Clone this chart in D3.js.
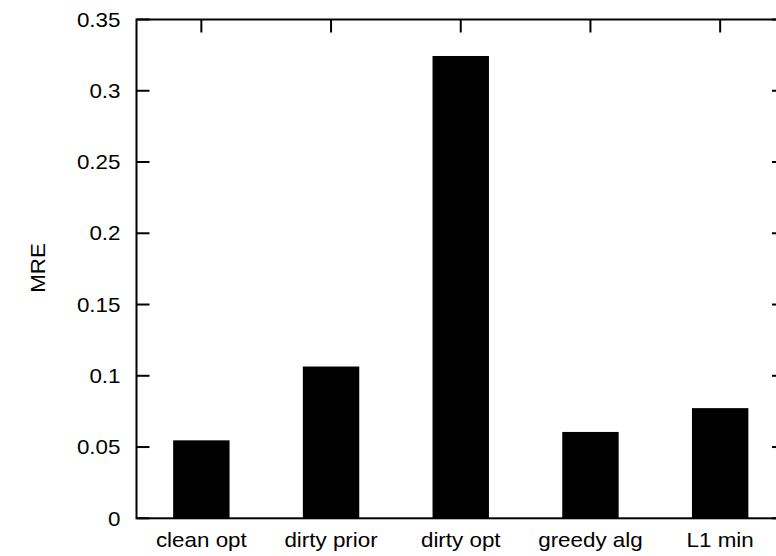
<!DOCTYPE html>
<html>
<head>
<meta charset="utf-8">
<script src="https://cdnjs.cloudflare.com/ajax/libs/d3/7.8.5/d3.min.js"></script>
<style>
  body { margin: 0; background: #fff; }
  text { font-family: "Liberation Sans", Arial, sans-serif; fill: #000; }
</style>
</head>
<body>
<div id="chart"></div>
<script>
var methods = ['clean opt', 'dirty prior', 'dirty opt', 'greedy alg', 'L1 min'];
var mre = [0.0547, 0.1065, 0.3244, 0.0606, 0.0773];
var yTicks = [0, 0.05, 0.1, 0.15, 0.2, 0.25, 0.3, 0.35];
var yTickLabels = ['0', '0.05', '0.1', '0.15', '0.2', '0.25', '0.3', '0.35'];

var W = 776, H = 556;
var margin = {top: 19.5, left: 136.5};
var plotW = 648.5, plotH = 498.8;
var fs = 20, sx = 1.12;

var svg = d3.select('#chart').append('svg')
    .attr('width', W)
    .attr('height', H);

var x = d3.scaleLinear().domain([-0.5, 4.5]).range([margin.left, margin.left + plotW]);
var y = d3.scaleLinear().domain([0, 0.35]).range([margin.top + plotH, margin.top]);
var barW = 0.435 * (x(1) - x(0));

// bars
svg.selectAll('rect.bar')
    .data(mre)
    .enter().append('rect')
    .attr('class', 'bar')
    .attr('x', function(d, i) { return x(i) - barW / 2; })
    .attr('y', function(d) { return y(d); })
    .attr('width', barW)
    .attr('height', function(d) { return y(0) - y(d); })
    .attr('fill', '#000');

var tickLen = 13;
var g = svg.append('g').attr('stroke', '#000').attr('stroke-width', 2);

// y ticks, left and right, pointing inward
yTicks.forEach(function(t) {
  g.append('line').attr('x1', x(-0.5)).attr('x2', x(-0.5) + tickLen)
    .attr('y1', y(t)).attr('y2', y(t));
  g.append('line').attr('x1', x(4.5)).attr('x2', x(4.5) - tickLen)
    .attr('y1', y(t)).attr('y2', y(t));
});

// x ticks, top and bottom
methods.forEach(function(m, i) {
  g.append('line').attr('x1', x(i)).attr('x2', x(i))
    .attr('y1', y(0.35)).attr('y2', y(0.35) + tickLen);
  g.append('line').attr('x1', x(i)).attr('x2', x(i))
    .attr('y1', y(0)).attr('y2', y(0) - tickLen);
});

// frame
g.append('rect')
    .attr('x', x(-0.5)).attr('y', y(0.35))
    .attr('width', x(4.5) - x(-0.5)).attr('height', y(0) - y(0.35))
    .attr('fill', 'none');

// y tick labels
svg.selectAll('text.ytick')
    .data(yTicks)
    .enter().append('text')
    .attr('class', 'ytick')
    .attr('text-anchor', 'end')
    .attr('font-size', fs)
    .attr('transform', function(d) { return 'translate(' + (x(-0.5) - 16) + ',' + (y(d) + 7.2) + ') scale(' + sx + ',1)'; })
    .text(function(d, i) { return yTickLabels[i]; });

// x tick labels
svg.selectAll('text.xtick')
    .data(methods)
    .enter().append('text')
    .attr('class', 'xtick')
    .attr('text-anchor', 'middle')
    .attr('font-size', fs)
    .attr('transform', function(d, i) { return 'translate(' + x(i) + ',' + (y(0) + 28.5) + ') scale(' + sx + ',1)'; })
    .text(function(d) { return d; });

// y axis title
svg.append('text')
    .attr('text-anchor', 'middle')
    .attr('font-size', fs)
    .attr('transform', 'translate(44.5,268) rotate(-90) scale(' + sx + ',1)')
    .text('MRE');
</script>
</body>
</html>
